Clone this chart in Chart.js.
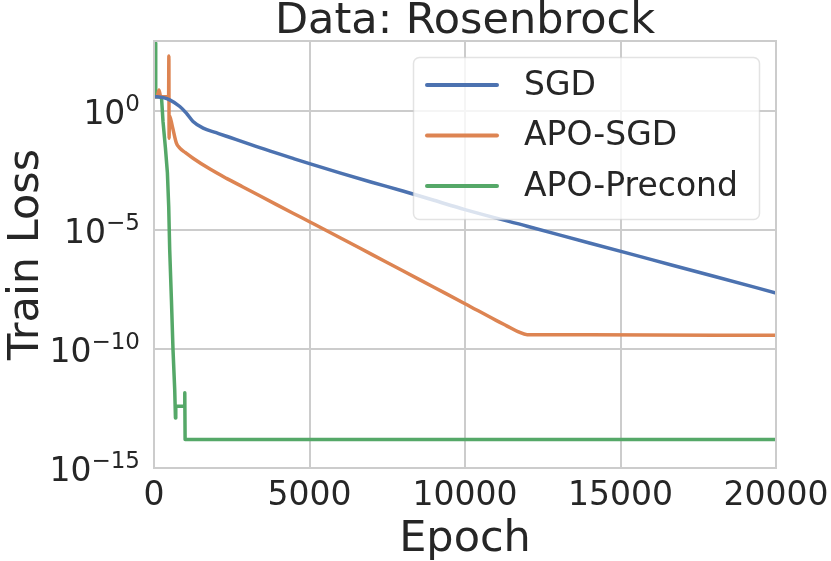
<!DOCTYPE html>
<html>
<head>
<meta charset="utf-8">
<title>Data: Rosenbrock</title>
<script src="https://cdn.jsdelivr.net/npm/chart.js@4.4.1/dist/chart.umd.min.js"></script>
<style>
  html, body { margin: 0; padding: 0; background: #ffffff; }
  #lossChart { display: block; }
</style>
</head>
<body>
<canvas id="lossChart" width="831" height="561"></canvas>
<script>
// values
const sgdEpochs = [0, 300, 505, 830, 1040, 1255, 1580, 2000, 2330, 3400, 4470, 5000, 6000, 7000, 8000, 9000, 10000, 12000, 14000, 16000, 18000, 20000];
const sgdLoss = [3.98, 3.55, 2.88, 1.51, 0.794, 0.355, 0.186, 0.120, 0.0851, 0.0282, 0.0100, 6.03e-3, 2.40e-3, 1.0e-3, 4.27e-4, 1.74e-4, 7.08e-5, 1.41e-5, 2.82e-6, 5.62e-7, 1.12e-7, 2.24e-8];

const apoSgdEpochs = [0, 100, 160, 215, 470, 478, 486, 495, 590, 720, 830, 1000, 1255, 1800, 2330, 2860, 3400, 3940, 4470, 5000, 6000, 7000, 8000, 9000, 10000, 11000, 11340, 11700, 12000, 14000, 20000];
const apoSgdLoss = [3.89, 3.89, 7.41, 3.89, 3.89, 200, 0.0708, 0.631, 0.219, 0.0437, 0.0269, 0.0178, 0.0102, 3.55e-3, 1.45e-3, 6.31e-4, 2.69e-4, 1.15e-4, 5.01e-5, 2.19e-5, 4.57e-6, 9.33e-7, 1.91e-7, 3.89e-8, 7.94e-9, 1.58e-9, 9.33e-10, 5.37e-10, 3.98e-10, 3.89e-10, 3.72e-10];

const apoPrecondEpochs = [45, 55, 240, 290, 367, 431, 473, 505, 560, 611, 666, 690, 700, 985, 990, 1000, 20000];
const apoPrecondLoss = [708, 3.89, 3.89, 0.347, 0.0275, 2.45e-3, 9.55e-5, 1.45e-6, 1.17e-8, 9.33e-11, 1.95e-12, 1.26e-13, 3.89e-13, 3.89e-13, 1.45e-12, 1.58e-14, 1.58e-14];

const seriesNames = ['SGD', 'APO-SGD', 'APO-Precond'];
const seriesColors = ['#4c72b0', '#dd8452', '#55a868'];

const xTicks = [0, 5000, 10000, 15000, 20000];
const yTicks = [1e0, 1e-5, 1e-10, 1e-15];
const yTickExponents = ['0', '\u22125', '\u221210', '\u221215'];

const FONT = '"DejaVu Sans", "Liberation Sans", sans-serif';
const TEXT = '#262626';
const GRID = '#cccccc';

function toPoints(xs, ys) {
    return xs.map((x, i) => ({ x: x, y: ys[i] }));
}

// title, axis titles, y tick labels, frame and legend
const decorations = {
    id: 'decorations',
    afterDraw(chart) {
        const ctx = chart.ctx;
        const area = chart.chartArea;
        const yScale = chart.scales.y;
        ctx.save();

        // frame
        ctx.strokeStyle = GRID;
        ctx.lineWidth = 2;
        ctx.strokeRect(area.left, area.top, area.right - area.left, area.bottom - area.top);

        // y tick labels: 10 with superscript exponent
        ctx.fillStyle = TEXT;
        ctx.textAlign = 'right';
        ctx.textBaseline = 'alphabetic';
        yTicks.forEach((v, i) => {
            const y = yScale.getPixelForValue(v);
            const right = area.left - 14;
            ctx.font = '23px ' + FONT;
            const wExp = ctx.measureText(yTickExponents[i]).width;
            ctx.fillText(yTickExponents[i], right, y);
            ctx.font = '33px ' + FONT;
            ctx.fillText('10', right - wExp, y + 13);
        });

        // title
        ctx.textAlign = 'center';
        ctx.font = '43px ' + FONT;
        ctx.fillText('Data: Rosenbrock', (area.left + area.right) / 2, 33);

        // axis titles
        ctx.font = '43px ' + FONT;
        ctx.fillText('Epoch', (area.left + area.right) / 2, 551);
        ctx.save();
        ctx.translate(38, (area.top + area.bottom) / 2);
        ctx.rotate(-Math.PI / 2);
        ctx.fillText('Train Loss', 0, 0);
        ctx.restore();

        // legend
        const bx = 413.5, by = 57.5, bw = 346, bh = 162;
        ctx.beginPath();
        ctx.roundRect(bx, by, bw, bh, 6);
        ctx.fillStyle = 'rgba(255,255,255,0.8)';
        ctx.fill();
        ctx.strokeStyle = 'rgba(204,204,204,0.55)';
        ctx.lineWidth = 1.5;
        ctx.stroke();

        ctx.font = '33px ' + FONT;
        ctx.textAlign = 'left';
        ctx.textBaseline = 'middle';
        chart.data.datasets.forEach((ds, i) => {
            const ly = 85 + i * 50.5;
            ctx.strokeStyle = ds.borderColor;
            ctx.lineWidth = 4;
            ctx.lineCap = 'round';
            ctx.beginPath();
            ctx.moveTo(427, ly);
            ctx.lineTo(497, ly);
            ctx.stroke();
            ctx.fillStyle = TEXT;
            ctx.fillText(ds.label, 524, ly + 1);
        });
        ctx.restore();
    }
};

const ctx = document.getElementById('lossChart').getContext('2d');
const lossChart = new Chart(ctx, {
    type: 'line',
    data: {
        datasets: [
            { label: seriesNames[0], data: toPoints(sgdEpochs, sgdLoss), borderColor: seriesColors[0], cubicInterpolationMode: 'monotone' },
            { label: seriesNames[1], data: toPoints(apoSgdEpochs, apoSgdLoss), borderColor: seriesColors[1], cubicInterpolationMode: 'monotone' },
            { label: seriesNames[2], data: toPoints(apoPrecondEpochs, apoPrecondLoss), borderColor: seriesColors[2] }
        ]
    },
    options: {
        responsive: false,
        animation: false,
        devicePixelRatio: 1,
        layout: { padding: { left: 0, right: 55, top: 41, bottom: 0 } },
        elements: {
            line: { borderWidth: 3.5, tension: 0, fill: false, borderJoinStyle: 'round', borderCapStyle: 'round' },
            point: { radius: 0, hoverRadius: 0 }
        },
        plugins: {
            legend: { display: false },
            title: { display: false },
            tooltip: { enabled: false }
        },
        scales: {
            x: {
                type: 'linear',
                min: 0,
                max: 20000,
                afterBuildTicks: (scale) => { scale.ticks = xTicks.map(v => ({ value: v })); },
                afterFit: (scale) => {
                    scale.height = 93;
                    scale.paddingLeft = 0;
                    scale.paddingRight = 0;
                },
                ticks: {
                    font: { size: 33, family: FONT },
                    color: TEXT,
                    padding: 9,
                    maxRotation: 0,
                    autoSkip: false,
                    callback: (v) => String(v)
                },
                grid: { color: GRID, lineWidth: 2, drawTicks: false },
                border: { color: GRID, width: 2 }
            },
            y: {
                type: 'logarithmic',
                min: 1e-15,
                max: 850,
                afterBuildTicks: (scale) => { scale.ticks = yTicks.map(v => ({ value: v })); },
                afterFit: (scale) => { scale.width = 154; },
                ticks: { display: false },
                grid: { color: GRID, lineWidth: 2, drawTicks: false },
                border: { color: GRID, width: 2 }
            }
        }
    },
    plugins: [decorations]
});
</script>
</body>
</html>
